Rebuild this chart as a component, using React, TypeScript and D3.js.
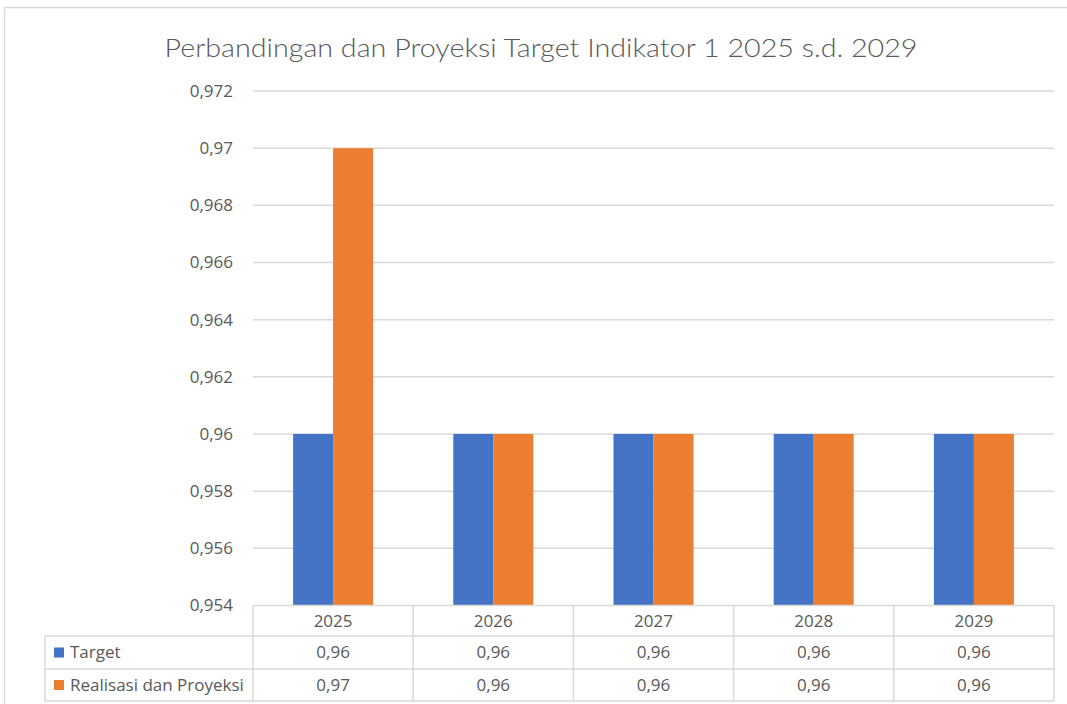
import React from "react";
import * as d3 from "d3";

const title = "Perbandingan dan Proyeksi Target Indikator 1 2025 s.d. 2029";
const categories = ["2025", "2026", "2027", "2028", "2029"];
const seriesNames = ["Target", "Realisasi dan Proyeksi"];
const targetValues = [0.96, 0.96, 0.96, 0.96, 0.96];
const realisasiValues = [0.97, 0.96, 0.96, 0.96, 0.96];
const yTicks = [0.954, 0.956, 0.958, 0.96, 0.962, 0.964, 0.966, 0.968, 0.97, 0.972];
const colors = ["#4472C4", "#ED7D31"];

const fmt = (v: number) => String(Number(v.toFixed(3))).replace(".", ",");

export default function App() {
  const W = 1067, H = 704;
  const left = 253, right = 1054, top = 91, bottom = 605.5;
  const x = d3.scaleBand<string>().domain(categories).range([left, right]).paddingInner(0).paddingOuter(0);
  const inner = d3.scaleBand<string>().domain(seriesNames).range([0, 80]);
  const y = d3.scaleLinear().domain([0.954, 0.972]).range([bottom, top]);
  const series = [targetValues, realisasiValues];
  const rowTops = [605.5, 636, 669, 701];
  const tableLeft = 45;
  const grid = "#d9d9d9";
  const txt = "#595959";
  const font = "'Open Sans', Lato, sans-serif";
  const fs = 17;

  return (
    <svg width={W} height={H} style={{ position: "absolute", left: 0, top: 0, background: "#fff" }} fontFamily={font}>
      <rect x={0} y={0} width={W} height={H} fill="#fff" />
      {/* chart outer border */}
      <line x1={4.5} y1={7.5} x2={W} y2={7.5} stroke={grid} strokeWidth={1.5} />
      <line x1={4.5} y1={7.5} x2={4.5} y2={H} stroke={grid} strokeWidth={1.5} />
      <text x={541} y={56.5} textAnchor="middle" fontSize={25} fontWeight={300} fill={txt} fontFamily="Lato, sans-serif" textLength={753} lengthAdjust="spacingAndGlyphs">{title}</text>
      {/* gridlines */}
      {yTicks.map((t) => (
        <g key={t}>
          {t !== 0.954 && <line x1={left} x2={right} y1={y(t)} y2={y(t)} stroke={grid} strokeWidth={1.5} />}
          <text x={233} y={y(t)} dy="0.35em" textAnchor="end" fontSize={fs} fill={txt}>{fmt(t)}</text>
        </g>
      ))}
      {/* bars */}
      {categories.map((c, i) => {
        const gx = (x(c) as number) + (x.bandwidth() - 80) / 2;
        return (
          <g key={c}>
            {series.map((s, j) => (
              <rect key={j} x={gx + (inner(seriesNames[j]) as number)} y={y(s[i])} width={inner.bandwidth()} height={bottom - y(s[i])} fill={colors[j]} />
            ))}
          </g>
        );
      })}
      {/* data table */}
      <g stroke={grid} strokeWidth={1.5} fill="none">
        <line x1={left} x2={right} y1={rowTops[0]} y2={rowTops[0]} />
        <line x1={tableLeft} x2={right} y1={rowTops[1]} y2={rowTops[1]} />
        <line x1={tableLeft} x2={right} y1={rowTops[2]} y2={rowTops[2]} />
        <line x1={tableLeft} x2={right} y1={rowTops[3]} y2={rowTops[3]} />
        <line x1={tableLeft} x2={tableLeft} y1={rowTops[1]} y2={rowTops[3]} />
        {categories.map((c) => (
          <line key={c} x1={x(c)} x2={x(c)} y1={rowTops[0]} y2={rowTops[3]} />
        ))}
        <line x1={right} x2={right} y1={rowTops[0]} y2={rowTops[3]} />
      </g>
      {categories.map((c) => (
        <text key={c} x={(x(c) as number) + x.bandwidth() / 2} y={(rowTops[0] + rowTops[1]) / 2} dy="0.35em" textAnchor="middle" fontSize={fs} fill={txt}>{c}</text>
      ))}
      {series.map((s, j) => (
        <g key={j}>
          <rect x={54} y={(rowTops[j + 1] + rowTops[j + 2]) / 2 - 5} width={10} height={10} fill={colors[j]} />
          <text x={70} y={(rowTops[j + 1] + rowTops[j + 2]) / 2} dy="0.35em" fontSize={fs} fill={txt}>{seriesNames[j]}</text>
          {categories.map((c, i) => (
            <text key={c} x={(x(c) as number) + x.bandwidth() / 2} y={(rowTops[j + 1] + rowTops[j + 2]) / 2} dy="0.35em" textAnchor="middle" fontSize={fs} fill={txt}>{fmt(s[i])}</text>
          ))}
        </g>
      ))}
    </svg>
  );
}
